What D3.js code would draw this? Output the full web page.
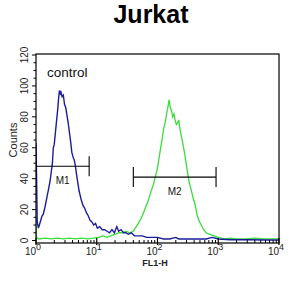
<!DOCTYPE html>
<html><head><meta charset="utf-8">
<script src="https://cdn.jsdelivr.net/npm/d3@7/dist/d3.min.js"></script>
<style>body{margin:0;background:#fff}svg{display:block}</style>
</head><body>
<svg id="c" width="305" height="296"></svg>
<script>
const title = "Jurkat";
const xLabel = "FL1-H";
const yLabel = "Counts";
const yTicks = [0, 20, 40, 60, 80, 100, 120];
const xDecades = [0, 1, 2, 3, 4];
const controlLabel = "control";
// control (blue) histogram: log10(FL1-H) and counts
const blueLog = [0,0.01,0.02,0.04,0.07,0.10,0.12,0.15,0.18,0.20,0.23,0.25,0.27,0.285,0.30,0.32,0.34,0.36,0.37,0.385,0.40,0.41,0.43,0.45,0.47,0.49,0.51,0.53,0.55,0.57,0.59,0.61,0.63,0.65,0.67,0.69,0.71,0.74,0.77,0.80,0.83,0.86,0.89,0.92,0.95,0.98,1.01,1.05,1.09,1.13,1.17,1.21,1.25,1.29,1.33,1.36,1.40,1.44,1.48,1.52,1.57,1.62,1.68,1.75,1.82,1.90,2.0,2.1,2.2,2.3,2.35,2.45,2.6,2.8,2.9,3.0,3.2,3.5,3.8,4.0];
const blueCount = [63,40,12,8,12,16,17,22,28,32,38,44,50,60,62,70,78,86,91,97,95,96,93,94,88,86,81,76,70,64,57,54,52,48,42,37,32,27,23,21,18,16,13,12,10,11,8,9,7,7,6,5,7,5,9,6,7,5,5,4,5,3,3,3,2,2,2,1,1,2,1,1,1,1,2,1,0.5,0.5,0.3,0.3];
// sample (green) histogram
const greenLog = [0,0.01,0.05,0.15,0.25,0.35,0.45,0.55,0.65,0.75,0.85,0.95,1.03,1.10,1.17,1.23,1.30,1.36,1.42,1.48,1.54,1.60,1.65,1.70,1.75,1.80,1.84,1.88,1.93,1.97,2.00,2.04,2.07,2.10,2.13,2.15,2.17,2.19,2.21,2.23,2.25,2.27,2.29,2.31,2.33,2.35,2.37,2.40,2.43,2.46,2.49,2.52,2.56,2.59,2.62,2.65,2.68,2.72,2.76,2.80,2.86,2.93,3.00,3.1,3.2,3.3,3.45,3.6,3.75,3.9,4.0];
const greenCount = [15,2,1,1.5,1,1.5,1,1.5,1,1.5,1,1.5,2,3,2,3,4,5,5,6,5,6,9,12,16,21,25,30,36,42,47,57,64,72,77,82,86,91,86,84,80,82,78,75,76,78,72,66,60,53,45,38,32,27,23,17,13,10,7,5,4,3,2,1,1.5,1,1,1.5,1,1,1];
// markers: name, from, to (FL1-H), level (counts)
const markerNames = ["M1", "M2"];
const markerFrom = [1, 40];
const markerTo = [7.5, 920];
const markerLevel = [48, 41];

const svg = d3.select("#c");
const L = 36, R = 279, T = 54, B = 243;
const x = d3.scaleLog().domain([1, 10000]).range([L, R]);
const y = d3.scaleLinear().domain([0, 120]).range([240.5, 55]);
const font = "'Liberation Sans', Arial, sans-serif";

svg.append("text").attr("x", 151).attr("y", 23).attr("text-anchor", "middle")
  .attr("font-family", font).attr("font-weight", "bold").attr("font-size", 25).text(title);

svg.append("defs").append("clipPath").attr("id", "clip")
  .append("rect").attr("x", L).attr("y", T).attr("width", R - L).attr("height", B - T);

const line = d3.line().x(d => x(Math.pow(10, d[0]))).y(d => y(d[1]));
const g = svg.append("g").attr("clip-path", "url(#clip)");
g.append("path").datum(greenLog.map((v, i) => [v, greenCount[i]]))
  .attr("d", line).attr("fill", "none").attr("stroke", "#3ddc3d").attr("stroke-width", 1.3);
g.append("path").datum(blueLog.map((v, i) => [v, blueCount[i]]))
  .attr("d", line).attr("fill", "none").attr("stroke", "#1c1c9c").attr("stroke-width", 1.4);

// frame
svg.append("rect").attr("x", L).attr("y", T).attr("width", R - L).attr("height", B - T)
  .attr("fill", "none").attr("stroke", "#000").attr("stroke-width", 1.2);

// y ticks
const yMinor = d3.range(0, 121, 5);
svg.append("g").selectAll("line").data(yMinor).join("line")
  .attr("x1", d => d % 20 === 0 ? L - 4 : L - 2.5).attr("x2", L)
  .attr("y1", d => y(d)).attr("y2", d => y(d)).attr("stroke", "#000").attr("stroke-width", 1);
svg.append("g").selectAll("text").data(yTicks).join("text")
  .attr("transform", d => `translate(28,${y(d)}) rotate(-90)`)
  .attr("text-anchor", "middle").attr("font-family", font).attr("font-size", 10)
  .attr("fill", "#222").text(d => d);
svg.append("text").attr("transform", "translate(17,140) rotate(-90)")
  .attr("text-anchor", "middle").attr("font-family", font).attr("font-size", 11)
  .attr("fill", "#222").text(yLabel);

// x ticks
const xMinor = [];
for (let e = 0; e < 4; e++) for (let m = 2; m <= 9; m++) xMinor.push(m * Math.pow(10, e));
svg.append("g").selectAll("line").data(xMinor).join("line")
  .attr("x1", d => x(d)).attr("x2", d => x(d)).attr("y1", B).attr("y2", B - 3)
  .attr("stroke", "#000").attr("stroke-width", 1);
svg.append("g").selectAll("line").data(xDecades).join("line")
  .attr("x1", d => x(Math.pow(10, d))).attr("x2", d => x(Math.pow(10, d))).attr("y1", B + 2).attr("y2", B - 5)
  .attr("stroke", "#000").attr("stroke-width", 1.2);
const xl = svg.append("g").selectAll("text").data(xDecades).join("text")
  .attr("x", d => x(Math.pow(10, d)) - 3).attr("y", 255).attr("text-anchor", "middle")
  .attr("font-family", font).attr("font-size", 10).attr("fill", "#222");
xl.append("tspan").text("10");
xl.append("tspan").attr("dy", -5).attr("font-size", 9).text(d => d);
svg.append("text").attr("x", 155).attr("y", 266).attr("text-anchor", "middle")
  .attr("font-family", font).attr("font-size", 9).attr("font-weight", "bold").attr("fill", "#222").text(xLabel);

// control label
svg.append("text").attr("x", 47).attr("y", 77).attr("font-family", font).attr("font-size", 13.5)
  .attr("fill", "#111").text(controlLabel);

// markers
markerNames.forEach((n, i) => {
  const x1 = x(markerFrom[i]), x2 = x(markerTo[i]), yy = y(markerLevel[i]);
  const mg = svg.append("g").attr("stroke", "#000").attr("stroke-width", 1.1);
  mg.append("line").attr("x1", x1).attr("x2", x2).attr("y1", yy).attr("y2", yy);
  if (i > 0) mg.append("line").attr("x1", x1).attr("x2", x1).attr("y1", yy - 10).attr("y2", yy + 10);
  mg.append("line").attr("x1", x2).attr("x2", x2).attr("y1", yy - 10).attr("y2", yy + 10);
  svg.append("text").attr("x", (x1 + x2) / 2).attr("y", yy + 18).attr("text-anchor", "middle")
    .attr("font-family", font).attr("font-size", 10).attr("fill", "#111").text(n);
});
</script>
</body></html>
